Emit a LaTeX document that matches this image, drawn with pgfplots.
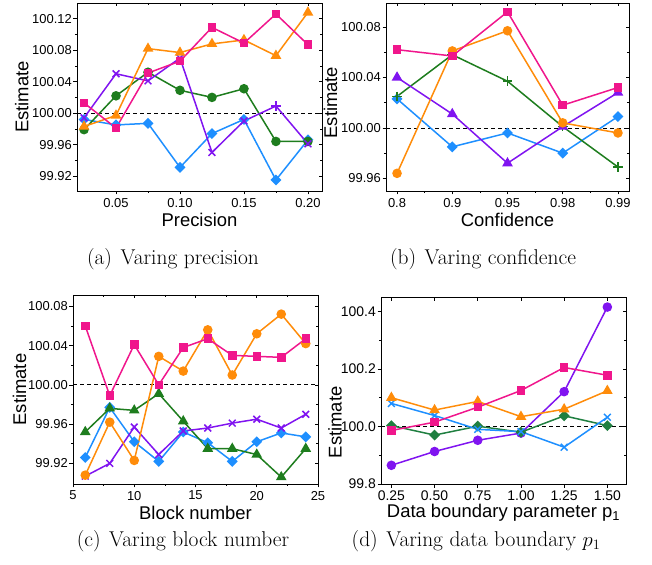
\documentclass[border=0pt]{standalone}
\usepackage{fontspec}
\setsansfont{Liberation Sans}
\usepackage{pgfplots}
\pgfplotsset{compat=1.18}
\definecolor{cpink}{HTML}{F0168C}
\definecolor{corange}{HTML}{FF8C0A}
\definecolor{cgreen}{HTML}{1E7D1E}
\definecolor{cgreenD}{HTML}{1F7F40}
\definecolor{cblue}{HTML}{1E8FFF}
\definecolor{cpurple}{HTML}{8014F0}
\pgfplotsset{
  base/.style={scale only axis, clip=false, tick align=outside, xtick pos=left, ytick pos=left,
    major tick length=3.5bp, minor tick length=2bp,
    every tick/.style={black, line width=0.6bp},
    axis line style={line width=0.8bp},
    /pgf/number format/assume math mode=true,
    ticklabel style={font=\sffamily\fontsize{13}{14}\selectfont},
    yticklabel style={inner xsep=1.5bp},
    label style={font=\sffamily\fontsize{18.5}{20}\selectfont},
    xlabel style={at={(axis description cs:0.5,0)}, yshift=-29bp, anchor=center},
  },
  over/.style={scale only axis, tick align=inside, xtick pos=right, ytick pos=right,
    major tick length=3.5bp, minor tick length=2bp,
    every tick/.style={black, line width=0.6bp},
    axis line style={line width=0.8bp},
    xticklabels={}, yticklabels={}},
  ln/.style={line width=1.5bp},
  msq/.style={ln, mark=square*, mark size=3.5bp},
  mci/.style={ln, mark=*, mark size=4bp},
  mtr/.style={ln, mark=triangle*, mark size=4.7bp},
  mdi/.style={ln, mark=square*, mark size=3.1bp, mark options={rotate=45}},
  mx/.style={ln, mark=x, mark size=4.8bp, mark options={line width=1.5bp}},
  mpl/.style={ln, mark=+, mark size=4.8bp, mark options={line width=1.5bp}},
  dash/.style={black, line width=0.8bp, dash pattern=on 4bp off 3bp, forget plot},
  aset/.style={width=245bp, height=188bp, xmin=0.0195, xmax=0.211, ymin=99.901, ymax=100.14,
    xtick={0.05,0.10,0.15,0.20}, minor x tick num=1,
    ytick={99.92,99.96,100,100.04,100.08,100.12}, minor y tick num=1},
  bset/.style={width=243bp, height=188bp, xmin=-0.2, xmax=4.2, ymin=99.95, ymax=100.099,
    xtick={0,1,2,3,4}, minor xtick={0.5,1.5,2.5,3.5},
    ytick={99.96,100,100.04,100.08}, minor y tick num=1},
  cset/.style={width=245bp, height=189bp, xmin=5, xmax=25, ymin=99.899, ymax=100.0915,
    xtick={5,10,15,20,25}, minor x tick num=1,
    ytick={99.92,99.96,100,100.04,100.08}, minor y tick num=1},
  dset/.style={width=245bp, height=187bp, xmin=0.19, xmax=1.608, ymin=99.8, ymax=100.45,
    xtick={0.25,0.5,0.75,1,1.25,1.5},
    ytick={99.8,100,100.2,100.4}, minor y tick num=1},
}
\begin{document}
\begin{tikzpicture}
\useasboundingbox (0,0) rectangle (652bp,565bp);
% ---------- (a)
\begin{axis}[base, aset, at={(77bp,374bp)}, anchor=south west,
  xlabel={Precision}, ylabel={Estimate},
  ylabel style={at={(axis description cs:-0.225,0.5)}, anchor=center},
  xticklabel style={/pgf/number format/.cd, fixed, fixed zerofill, precision=2},
  yticklabel style={/pgf/number format/.cd, fixed, fixed zerofill, precision=2}]
\addplot[dash] coordinates {(0.0195,100) (0.211,100)};
\addplot[cblue, mdi] coordinates {(0.025,99.992) (0.05,99.985) (0.075,99.987) (0.1,99.931) (0.125,99.974) (0.15,99.992) (0.175,99.915) (0.2,99.966)};
\addplot[cgreen, mci] coordinates {(0.025,99.979) (0.05,100.022) (0.075,100.052) (0.1,100.029) (0.125,100.020) (0.15,100.031) (0.175,99.964) (0.2,99.964)};
\addplot[cpurple, mx, mark indices={1,2,3,4,5,6,8}] coordinates {(0.025,99.994) (0.05,100.050) (0.075,100.041) (0.1,100.070) (0.125,99.950) (0.15,99.990) (0.175,100.009) (0.2,99.961)};
\addplot[cpurple, mpl, only marks] coordinates {(0.175,100.009)};
\addplot[corange, mtr] coordinates {(0.025,99.983) (0.05,99.997) (0.075,100.082) (0.1,100.077) (0.125,100.088) (0.15,100.093) (0.175,100.073) (0.2,100.128)};
\addplot[cpink, msq] coordinates {(0.025,100.013) (0.05,99.981) (0.075,100.051) (0.1,100.066) (0.125,100.109) (0.15,100.089) (0.175,100.126) (0.2,100.087)};
\end{axis}
\begin{axis}[over, aset, at={(77bp,374bp)}, anchor=south west]
\end{axis}
% ---------- (b)
\begin{axis}[base, bset, at={(386bp,374bp)}, anchor=south west,
  xlabel={Confidence}, ylabel={Estimate},
  xticklabels={0.8,0.9,0.95,0.98,0.99},
  ylabel style={at={(axis description cs:-0.228,0.47)}, anchor=center},
  yticklabel style={/pgf/number format/.cd, fixed, fixed zerofill, precision=2}]
\addplot[dash] coordinates {(-0.2,100) (4.2,100)};
\addplot[cblue, mdi] coordinates {(0,100.023) (1,99.985) (2,99.996) (3,99.980) (4,100.009)};
\addplot[cgreen, mpl] coordinates {(0,100.025) (1,100.058) (2,100.037) (3,100.001) (4,99.969)};
\addplot[cpurple, mtr] coordinates {(0,100.040) (1,100.011) (2,99.972) (3,100.001) (4,100.028)};
\addplot[corange, mci] coordinates {(0,99.964) (1,100.061) (2,100.077) (3,100.004) (4,99.996)};
\addplot[cpink, msq] coordinates {(0,100.062) (1,100.057) (2,100.092) (3,100.018) (4,100.032)};
\end{axis}
\begin{axis}[over, bset, at={(386bp,374bp)}, anchor=south west]
\end{axis}
% ---------- (c)
\begin{axis}[base, cset, at={(73bp,81bp)}, anchor=south west,
  xlabel={Block number}, ylabel={Estimate},
  ylabel style={at={(axis description cs:-0.218,0.5)}, anchor=center},
  yticklabel style={/pgf/number format/.cd, fixed, fixed zerofill, precision=2}]
\addplot[dash] coordinates {(5,100) (25,100)};
\addplot[cblue, mdi] coordinates {(6,99.926) (8,99.977) (10,99.942) (12,99.922) (14,99.952) (16,99.941) (18,99.922) (20,99.942) (22,99.951) (24,99.947)};
\addplot[cgreen, mtr] coordinates {(6,99.952) (8,99.976) (10,99.974) (12,99.991) (14,99.963) (16,99.935) (18,99.935) (20,99.929) (22,99.906) (24,99.935)};
\addplot[cpurple, mx] coordinates {(6,99.907) (8,99.920) (10,99.957) (12,99.929) (14,99.953) (16,99.956) (18,99.961) (20,99.965) (22,99.956) (24,99.970)};
\addplot[corange, mci] coordinates {(6,99.908) (8,99.962) (10,99.923) (12,100.029) (14,100.014) (16,100.056) (18,100.010) (20,100.052) (22,100.072) (24,100.042)};
\addplot[cpink, msq] coordinates {(6,100.060) (8,99.989) (10,100.041) (12,100.000) (14,100.038) (16,100.047) (18,100.030) (20,100.029) (22,100.028) (24,100.047)};
\end{axis}
\begin{axis}[over, cset, at={(73bp,81bp)}, anchor=south west]
\end{axis}
% ---------- (d)
\begin{axis}[base, dset, at={(381bp,81bp)}, anchor=south west,
  xlabel={Data boundary parameter p\textsubscript{1}}, ylabel={Estimate},
  ticklabel style={font=\sffamily\fontsize{14}{15}\selectfont},
  ylabel style={at={(axis description cs:-0.188,0.33)}, anchor=center},
  xticklabel style={/pgf/number format/.cd, fixed, fixed zerofill, precision=2},
  yticklabel style={/pgf/number format/.cd, fixed, fixed zerofill, precision=1}]
\addplot[dash] coordinates {(0.19,100) (1.608,100)};
\addplot[cpurple, mci] coordinates {(0.25,99.865) (0.5,99.913) (0.75,99.952) (1.0,99.977) (1.25,100.121) (1.5,100.415)};
\addplot[cgreenD, mdi] coordinates {(0.25,100.003) (0.5,99.970) (0.75,100.001) (1.0,99.980) (1.25,100.037) (1.5,100.003)};
\addplot[cblue, mx] coordinates {(0.25,100.080) (0.5,100.038) (0.75,99.990) (1.0,99.982) (1.25,99.928) (1.5,100.032)};
\addplot[corange, mtr] coordinates {(0.25,100.100) (0.5,100.057) (0.75,100.087) (1.0,100.034) (1.25,100.060) (1.5,100.124)};
\addplot[cpink, msq] coordinates {(0.25,99.986) (0.5,100.015) (0.75,100.067) (1.0,100.125) (1.25,100.205) (1.5,100.178)};
\end{axis}
\begin{axis}[over, dset, at={(381bp,81bp)}, anchor=south west]
\end{axis}
% ---------- captions
\node[font=\fontsize{21.5}{23}\selectfont] at (173bp,306bp) {(a)\hspace{0.4em}Varing precision};
\node[font=\fontsize{21.5}{23}\selectfont] at (483bp,306bp) {(b)\hspace{0.4em}Varing confidence};
\node[font=\fontsize{21.5}{23}\selectfont] at (183bp,24bp) {(c)\hspace{0.4em}Varing block number};
\node[font=\fontsize{21.5}{23}\selectfont] at (476bp,24bp) {(d)\hspace{0.4em}Varing data boundary $p_1$};
\end{tikzpicture}
\end{document}
